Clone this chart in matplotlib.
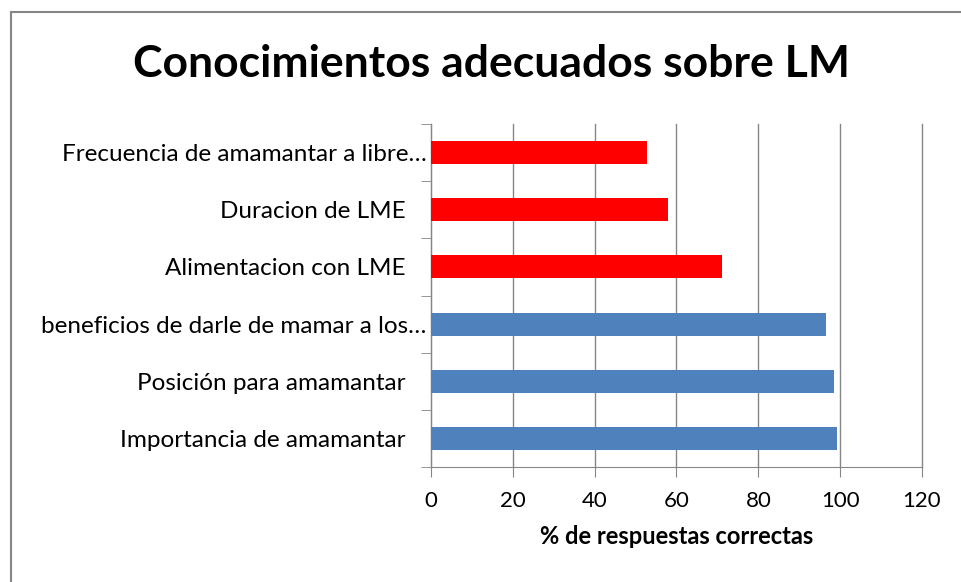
import matplotlib.pyplot as plt
from matplotlib.patches import Rectangle
from matplotlib.transforms import ScaledTranslation

# data (bottom to top)
categories = ["Importancia de amamantar",
              "Posición para amamantar",
              "beneficios de darle de mamar a los…",
              "Alimentacion con LME",
              "Duracion de LME",
              "Frecuencia de amamantar a libre…"]
values = [99.3, 98.5, 96.5, 71.1, 58.0, 52.7]
colors = ["#4F81BD", "#4F81BD", "#4F81BD", "#FF0000", "#FF0000", "#FF0000"]
xticks = [0, 20, 40, 60, 80, 100, 120]

plt.rcParams['font.family'] = ['Lato', 'DejaVu Sans']

fig = plt.figure(figsize=(9.62, 5.82), dpi=100)
ax = fig.add_axes([431/962, 1-467/582, 491/962, 343/582])

# outer chart frame (right and bottom edges fall outside the picture)
fig.patches.append(Rectangle((11/962, -0.1), 1.0, 1.1 - 12/582, transform=fig.transFigure,
                             fill=False, edgecolor="#868686", linewidth=1.5))

ax.barh(range(len(categories)), values, height=0.4, color=colors, zorder=3)
ax.set_xlim(0, 120)
ax.set_ylim(-0.5, len(categories) - 0.5)
ax.set_xticks(xticks)
ax.set_xticklabels([str(t) for t in xticks], fontsize=16)
ax.set_yticks(range(len(categories)))
ax.set_yticklabels(categories, fontsize=17.5)
ax.set_yticks([i - 0.5 for i in range(len(categories) + 1)], minor=True)

ax.grid(axis='x', color="#868686", linewidth=1, zorder=0)
for gl in ax.get_xgridlines():
    gl.set_clip_on(False)
for s in ['top', 'right']:
    ax.spines[s].set_visible(False)
ax.spines['left'].set_color("#868686")
ax.spines['bottom'].set_color("#868686")
ax.tick_params(axis='y', which='major', length=0, pad=3)
ax.tick_params(axis='y', which='minor', length=7, color="#868686")
ax.tick_params(axis='x', length=7, color="#868686", pad=10)

# full labels sit a bit further from the axis than the truncated ones
for lab in ax.get_yticklabels():
    if not lab.get_text().endswith("…"):
        lab.set_transform(lab.get_transform() + ScaledTranslation(-21/100, 0, fig.dpi_scale_trans))

ax.set_xlabel("% de respuestas correctas", fontsize=17, fontweight='bold', labelpad=10)
fig.text(491.5/962, 1-64/582, "Conocimientos adecuados sobre LM", ha='center', va='center',
         fontsize=32, fontweight='bold')

fig.savefig("out.png", dpi=100)
